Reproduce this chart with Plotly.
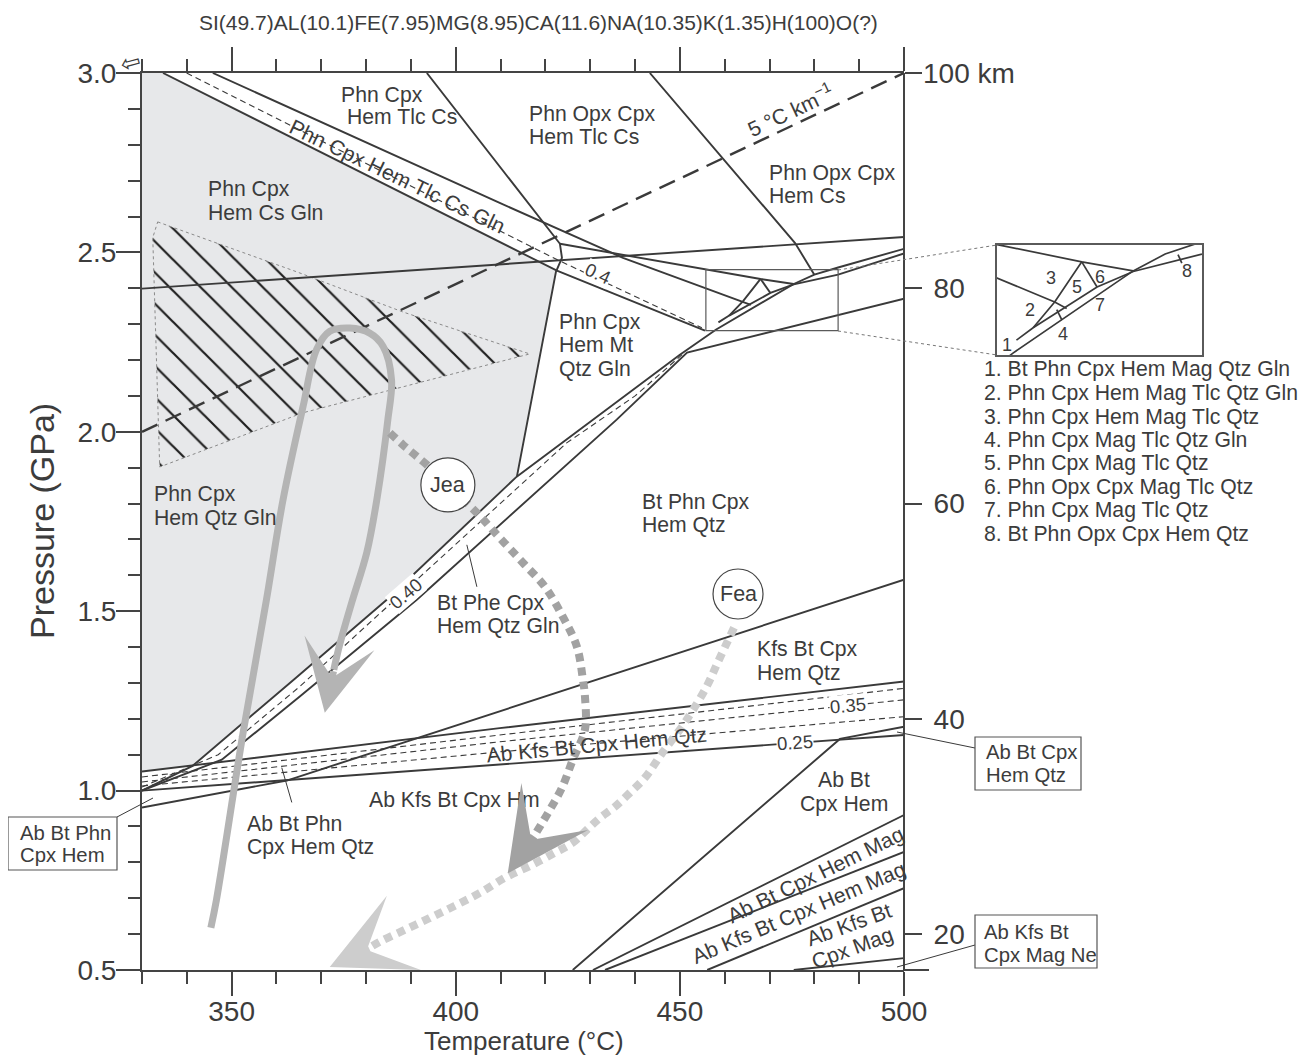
import plotly.graph_objects as go

# ------------------------------------------------------------------
# Data (temperature in °C, pressure in GPa)
# ------------------------------------------------------------------
shade_T = [330, 334.69, 422.5, 413.64, 384.6, 364.3, 341.3, 330]
shade_P = [3.0, 3.0, 2.448, 1.875, 1.532, 1.314, 1.069, 1.053]

hatch_T = [333.5, 364.5, 388.2, 416.5, 365.9, 333.95, 332.4, 333.5]
hatch_P = [2.585, 2.446, 2.334, 2.217, 2.053, 1.902, 2.541, 2.585]

# solid reaction lines
ub_T = [345.8, 409.8, 437.3, 455.8, 464.1, 465.83]
ub_P = [3.0, 2.638, 2.485, 2.401, 2.364, 2.354]
lb_T = [334.69, 422.57, 455.6]
lb_P = [3.0, 2.449, 2.282]
st_T = [393.55, 423.24, 423.69, 422.35, 413.64]
st_P = [3.0, 2.524, 2.485, 2.446, 1.875]
bl_T = [423.24, 455.8, 468.0, 475.4]
bl_P = [2.524, 2.452, 2.426, 2.412]
lh_T = [330, 500]
lh_P = [2.399, 2.543]
l6_T = [443.3, 475.7, 480.0]
l6_P = [3.0, 2.526, 2.438]
u_T = [330, 341.3, 364.3, 384.6, 413.6, 430.6, 450.0, 458.1, 475.4, 480.0, 485.3, 500]
u_P = [1.0, 1.069, 1.314, 1.532, 1.875, 2.033, 2.215, 2.285, 2.412, 2.438, 2.458, 2.510]
bc_T = [458.6, 461.0, 470.2, 475.4, 485.3, 500]
bc_P = [2.305, 2.324, 2.387, 2.411, 2.438, 2.497]
lw_T = [330, 347.8, 365.2, 391.3, 435.9, 451.6, 500]
lw_P = [1.0, 1.086, 1.262, 1.532, 2.034, 2.221, 2.371]
tril_T = [468.0, 464.1, 461.0]
tril_P = [2.426, 2.364, 2.324]
trir_T = [468.0, 470.2]
trir_P = [2.426, 2.387]
band_T = [330, 409.8, 500]
h1_P = [1.053, 1.174, 1.304]
h2_P = [1.0, 1.072, 1.155]
low_T = [330, 362.3, 500]
low_P = [0.953, 1.028, 1.588]
abch_T = [426.1, 485.7, 500]
abch_P = [0.5, 1.144, 1.178]
lr1_T = [430.6, 500]
lr1_P = [0.5, 0.932]
lr2_T = [433.3, 500]
lr2_P = [0.5, 0.829]
lr3_T = [456.1, 500]
lr3_P = [0.5, 0.728]
lr4_T = [475.4, 500]
lr4_P = [0.5, 0.533]

# dashed isopleths
db_T = [339.95, 422.57, 454.9]
db_P = [3.0, 2.480, 2.290]
d40_T = [330, 347, 365.2, 424.75, 440, 450.5]
d40_P = [1.01, 1.10, 1.29, 1.969, 2.10, 2.215]
hd1_P = [1.038, 1.155, 1.285]
hd2_P = [1.024, 1.136, 1.253]
hd3_P = [1.013, 1.108, 1.206]
geo_T = [330, 500]
geo_P = [2.0, 3.0]

# inset label ticks
tk4_T = [464.4, 465.15]
tk4_P = [2.352, 2.336]
tk8_T = [481.85, 482.4]
tk8_P = [2.437, 2.424]

# P-T paths
pt_T = [345.36, 346.6, 352.54, 357.77, 361.47, 365.94, 368.93, 371.9, 376.36, 380.8,
        383.8, 385.67, 384.85, 382.39, 380.16, 376.81, 374.13, 372.79]
pt_P = [0.618, 0.695, 1.160, 1.532, 1.811, 2.071, 2.229, 2.280, 2.289, 2.275,
        2.238, 2.145, 2.034, 1.811, 1.664, 1.525, 1.408, 1.337]
pt_tip = (370.78, 1.217)

jea_T = [385.29, 388.19, 390.87, 393.55, 398.24, 404.71, 409.85, 414.98, 419.89, 423.91,
         427.03, 428.37, 428.82, 428.82, 426.14, 423.69, 421.01, 417.66]
jea_P = [1.997, 1.964, 1.936, 1.908, 1.852, 1.774, 1.704, 1.635, 1.568, 1.484,
         1.401, 1.309, 1.262, 1.170, 1.087, 1.008, 0.947, 0.877]
jea_tip = (411.6, 0.7695)

fea_T = [462.08, 458.51, 456.05, 452.93, 450.47, 446.23, 442.21, 438.86, 435.51, 432.17,
         429.26, 426.14, 422.12, 416.54, 410.96, 405.38, 399.80, 394.22, 388.64, 383.06, 379.7]
fea_P = [1.454, 1.359, 1.292, 1.225, 1.178, 1.108, 1.036, 0.994, 0.955, 0.924,
         0.891, 0.855, 0.827, 0.790, 0.757, 0.715, 0.679, 0.645, 0.612, 0.579, 0.5535]
fea_tip = (371.88, 0.5087)

jea_c = (398.24, 1.852)
fea_c = (462.97, 1.548)

box_T = [455.8, 485.3]
box_P = [2.282, 2.452]

depth_ticks = [20, 40, 60, 80, 100]
depth_text = ['20', '40', '60', '80', '']

legend_items = ["1. Bt Phn Cpx Hem Mag Qtz Gln", "2. Phn Cpx Hem Mag Tlc Qtz Gln",
                "3. Phn Cpx Hem Mag Tlc Qtz", "4. Phn Cpx Mag Tlc Qtz Gln",
                "5. Phn Cpx Mag Tlc Qtz", "6. Phn Opx Cpx Mag Tlc Qtz",
                "7. Phn Cpx Mag Tlc Qtz", "8. Bt Phn Opx Cpx Hem Qtz"]

# field labels: (text, T, P) left-anchored lines
field_lines = [
    ("Phn Cpx", 373.9, 2.9395), ("Hem Tlc Cs", 375.25, 2.878),
    ("Phn Opx Cpx", 415.87, 2.887), ("Hem Tlc Cs", 415.87, 2.822),
    ("Phn Opx Cpx", 469.44, 2.722), ("Hem Cs", 469.44, 2.658),
    ("Phn Cpx", 344.22, 2.677), ("Hem Cs Gln", 344.22, 2.610),
    ("Phn Cpx", 422.54, 2.307), ("Hem Mt", 422.54, 2.243), ("Qtz Gln", 422.54, 2.176),
    ("Phn Cpx", 332.17, 1.827), ("Hem Qtz Gln", 332.17, 1.760),
    ("Bt Phn Cpx", 441.09, 1.805), ("Hem Qtz", 441.09, 1.741),
    ("Bt Phe Cpx", 395.33, 1.523), ("Hem Qtz Gln", 395.33, 1.459),
    ("Kfs Bt Cpx", 466.77, 1.395), ("Hem Qtz", 466.77, 1.328),
    ("Ab Kfs Bt Cpx Hm", 380.15, 0.975),
    ("Ab Bt Phn", 352.95, 0.907), ("Cpx Hem Qtz", 352.95, 0.843),
]
centered_lines = [("Ab Bt", 486.6, 1.030), ("Cpx Hem", 486.6, 0.963)]
rotated_labels = [
    ("Phn Cpx Hem Tlc Cs Gln", 387.0, 2.710, 25.6),
    ("Ab Kfs Bt Cpx Hem Qtz", 431.5, 1.128, -5.5),
    ("Ab Bt Cpx Hem Mag", 480.34, 0.765, -26),
    ("Ab Kfs Bt Cpx Hem Mag", 476.54, 0.659, -23),
    ("Ab Kfs Bt", 487.7, 0.626, -20),
    ("Cpx Mag", 488.6, 0.562, -20),
    ("5 °C km<sup>−1</sup>", 474.55, 2.897, -25.2),
]
number_labels = [("0.4", 431.7, 2.4405, 25), ("0.40", 388.9, 1.549, -41),
                 ("0.35", 487.57, 1.236, -5), ("0.25", 475.7, 1.133, -4)]
inset_nums = [("1", 457.3, 2.297), ("2", 460.55, 2.352), ("3", 463.6, 2.401),
              ("4", 465.3, 2.314), ("5", 467.3, 2.387), ("6", 470.6, 2.403),
              ("7", 470.6, 2.359), ("8", 483.1, 2.412)]

# ------------------------------------------------------------------
# Layout geometry (page body has an 8 px margin)
# ------------------------------------------------------------------
OFF = 8
W, H = 1293, 1054
ML, MT = 134, 65
PW, PH = 1060, 897
MR, MB = W - ML - PW, H - MT - PH
XMAIN = (904 - OFF - ML) / PW
XI0 = (997 - OFF - ML) / PW
YI0, YI1 = (H - MB - (355 - OFF)) / PH, (H - MB - (245 - OFF)) / PH


def paper(x, y):
    """convert a position measured on the reference screenshot to paper coords"""
    return (x - OFF - ML) / PW, (H - MB - (y - OFF)) / PH


FONT = "Liberation Sans, Arial, Helvetica, sans-serif"
LC = "#3a3a3a"
TC = "#3c3c3c"
AX = "#444444"

fig = go.Figure()


def line(T, P, width=1.9, color=LC, dash=None, xa='x', ya='y', shape='linear'):
    fig.add_trace(go.Scatter(x=T, y=P, mode='lines', xaxis=xa, yaxis=ya,
                             line=dict(color=color, width=width, dash=dash, shape=shape),
                             hoverinfo='skip'))


# shaded field
fig.add_trace(go.Scatter(x=shade_T, y=shade_P, mode='lines', fill='toself',
                         fillcolor='#e7e8ea', line=dict(width=0), hoverinfo='skip'))
# hatched field
fig.add_trace(go.Scatter(x=hatch_T, y=hatch_P, mode='lines', fill='toself',
                         fillcolor='rgba(0,0,0,0)',
                         fillpattern=dict(shape='\\', size=22, solidity=0.1,
                                          fgcolor='#1e1e1e', fgopacity=1,
                                          bgcolor='rgba(0,0,0,0)'),
                         line=dict(color='#8a8a8a', width=1, dash='dot'), hoverinfo='skip'))

# dashed lines
for P in (hd1_P, hd2_P, hd3_P):
    line(band_T, P, width=1.1, dash='6px,4px')
line(db_T, db_P, width=1.1, dash='6px,4px')
line(d40_T, d40_P, width=1.1, dash='6px,4px')
line(geo_T, geo_P, width=2.4, dash='17px,9px')

# solid lines
for T, P in [(ub_T, ub_P), (lb_T, lb_P), (st_T, st_P), (bl_T, bl_P), (lh_T, lh_P),
             (l6_T, l6_P), (u_T, u_P), (bc_T, bc_P), (lw_T, lw_P), (tril_T, tril_P),
             (trir_T, trir_P), (band_T, h1_P), (band_T, h2_P), (low_T, low_P),
             (abch_T, abch_P), (lr1_T, lr1_P), (lr2_T, lr2_P), (lr3_T, lr3_P),
             (lr4_T, lr4_P)]:
    line(T, P)

# inset (magnified box)
for T, P in [(bl_T, bl_P), (ub_T, ub_P), (tril_T, tril_P), (trir_T, trir_P),
             (u_T, u_P), (bc_T, bc_P), (tk4_T, tk4_P), (tk8_T, tk8_P)]:
    line(T, P, width=1.7, xa='x3', ya='y3')

# P-T paths
line(pt_T, pt_P, width=7, color='#b4b4b4', shape='spline')
line(jea_T, jea_P, width=8, color='#a2a2a2', dash='8px,6px', shape='spline')
line(fea_T, fea_P, width=8, color='#cdcdcd', dash='8px,6px', shape='spline')

# dummy trace for depth axis
fig.add_trace(go.Scatter(x=[330], y=[50], xaxis='x', yaxis='y2', mode='markers',
                         marker=dict(opacity=0), hoverinfo='skip'))

# ------------------------------------------------------------------
# Shapes
# ------------------------------------------------------------------
sx = XMAIN * PW / 170.0
sy = PH / 2.5
shapes = []
for (cT, cP), r in ((jea_c, 27), (fea_c, 25)):
    shapes.append(dict(type='circle', xref='x', yref='y', x0=cT - r / sx, x1=cT + r / sx,
                       y0=cP - r / sy, y1=cP + r / sy, fillcolor='white',
                       line=dict(color='#444', width=1.2), layer='above'))
shapes.append(dict(type='rect', xref='x', yref='y', x0=box_T[0], x1=box_T[1],
                   y0=box_P[0], y1=box_P[1], line=dict(color='#5a5a5a', width=1.2)))
# leaders inside plot (data coords)
shapes.append(dict(type='line', xref='x', yref='y', x0=402.47, y0=1.685, x1=404.71, y1=1.568,
                   line=dict(color=LC, width=1)))
shapes.append(dict(type='line', xref='x', yref='y', x0=361.18, y0=1.064, x1=363.42, y1=0.967,
                   line=dict(color=LC, width=1)))


def pline(x0, y0, x1, y1, **kw):
    a, b = paper(x0, y0)
    c, d = paper(x1, y1)
    shapes.append(dict(type='line', xref='paper', yref='paper', x0=a, y0=b, x1=c, y1=d,
                       line=kw.get('line', dict(color=LC, width=1))))


def prect(x0, y0, x1, y1):
    a, b = paper(x0, y1)
    c, d = paper(x1, y0)
    shapes.append(dict(type='rect', xref='paper', yref='paper', x0=a, y0=b, x1=c, y1=d,
                       fillcolor='white', line=dict(color='#555', width=1.2)))


pline(838, 270, 997, 245, line=dict(color='#777', width=1, dash='dot'))
pline(838, 331, 997, 355, line=dict(color='#777', width=1, dash='dot'))
pline(117, 817, 153, 798)
pline(897, 732, 975, 748)
pline(897, 967, 975, 945)
pline(904, 970, 929, 970, line=dict(color=AX, width=2))
prect(8, 817, 117, 870)
prect(975, 737, 1081, 790)
prect(975, 915, 1097, 968)

# ------------------------------------------------------------------
# Annotations
# ------------------------------------------------------------------
anns = []
LS = 21.2
BS = 20.3


def dlab(text, T, P, xanchor='left', angle=0, size=LS, **kw):
    anns.append(dict(text=text, x=T, y=P, xref='x', yref='y', showarrow=False,
                     xanchor=xanchor, yanchor='middle', textangle=angle,
                     font=dict(size=size, color=TC, family=FONT), **kw))


def plab(text, x, y, xanchor='left', size=LS, angle=0, **kw):
    a, b = paper(x, y)
    anns.append(dict(text=text, x=a, y=b, xref='paper', yref='paper', showarrow=False,
                     xanchor=xanchor, yanchor='middle', textangle=angle,
                     font=dict(size=size, color=TC, family=FONT), **kw))


for t, T, P in field_lines:
    dlab(t, T, P)
for t, T, P in centered_lines:
    dlab(t, T, P, xanchor='center')
for t, T, P, a in rotated_labels:
    dlab(t, T, P, xanchor='center', angle=a)
for t, T, P, a in number_labels:
    dlab(t, T, P, xanchor='center', angle=a, size=18.5, bgcolor='white', borderpad=0)
dlab("Jea", jea_c[0], jea_c[1], xanchor='center', size=21.5)
dlab("Fea", fea_c[0], fea_c[1], xanchor='center', size=21.5)

for t, T, P in inset_nums:
    anns.append(dict(text=t, x=T, y=P, xref='x3', yref='y3', showarrow=False,
                     xanchor='center', yanchor='middle',
                     font=dict(size=18, color=TC, family=FONT)))

legend_y = [369, 393, 417, 440, 463, 487, 510, 534]
for t, y in zip(legend_items, legend_y):
    plab(t, 982, y)

plab("Ab Bt Phn", 18, 833, size=BS)
plab("Cpx Hem", 18, 855, size=BS)
plab("Ab Bt Cpx", 984, 752, size=BS)
plab("Hem Qtz", 984, 775, size=BS)
plab("Ab Kfs Bt", 982, 932, size=BS)
plab("Cpx Mag Ne", 982, 955, size=BS)

plab("100 km", 921, 73, size=28)
plab("SI(49.7)AL(10.1)FE(7.95)MG(8.95)CA(11.6)NA(10.35)K(1.35)H(100)O(?)", 538, 22,
     xanchor='center', size=21)
plab("Pressure (GPa)", 42, 521, xanchor='center', size=34, angle=-90)
plab("Temperature (°C)", 524, 1041, xanchor='center', size=26)
plab("⇦", 131, 63, xanchor='center', size=24, angle=-15)

# arrow heads
for tip, tail, col, wd in ((pt_tip, (pt_T[-1], pt_P[-1]), '#b4b4b4', 7),
                           (jea_tip, (jea_T[-1], jea_P[-1]), '#a2a2a2', 8),
                           (fea_tip, (fea_T[-1], fea_P[-1]), '#cdcdcd', 8)):
    anns.append(dict(x=tip[0], y=tip[1], ax=tail[0], ay=tail[1], xref='x', yref='y',
                     axref='x', ayref='y', text='', showarrow=True, arrowhead=3,
                     arrowsize=1.7, arrowwidth=wd, arrowcolor=col, standoff=0))

tickfont = dict(size=28, color=TC, family=FONT)
fig.update_layout(
    width=W, height=H, margin=dict(l=ML, r=MR, t=MT, b=MB),
    paper_bgcolor='white', plot_bgcolor='rgba(0,0,0,0)', showlegend=False,
    font=dict(family=FONT, color=TC),
    xaxis=dict(domain=[0, XMAIN], range=[330, 500], anchor='y', tick0=350, dtick=50,
               ticks='outside', ticklen=24, tickwidth=1.6, tickcolor=AX,
               showline=True, linewidth=2, linecolor=AX, mirror='ticks',
               showgrid=False, zeroline=False, tickfont=tickfont, ticklabelstandoff=-9,
               minor=dict(tick0=330, dtick=10, ticks='outside', ticklen=12,
                          tickwidth=1.6, tickcolor=AX)),
    yaxis=dict(domain=[0, 1], range=[0.5, 3.0], anchor='x', tick0=0.5, dtick=0.5,
               tickformat='.1f', ticks='outside', ticklen=24, tickwidth=1.6,
               tickcolor=AX, showline=True, linewidth=2, linecolor=AX,
               showgrid=False, zeroline=False, tickfont=tickfont, ticklabelstandoff=-6,
               minor=dict(tick0=0.5, dtick=0.1, ticks='outside', ticklen=12,
                          tickwidth=1.6, tickcolor=AX)),
    yaxis2=dict(overlaying='y', side='right', anchor='free', position=XMAIN,
                range=[0.5 / 0.03, 3.0 / 0.03], tickmode='array', tickvals=depth_ticks,
                ticktext=depth_text, ticks='outside', ticklen=17, tickwidth=1.6,
                tickcolor=AX, showline=True, linewidth=2, linecolor=AX,
                showgrid=False, zeroline=False, tickfont=tickfont, ticklabelstandoff=6),
    xaxis3=dict(domain=[XI0, 1], range=box_T, anchor='y3', showline=True, mirror=True,
                linecolor='#5a5a5a', linewidth=1.5, ticks='', showticklabels=False,
                showgrid=False, zeroline=False),
    yaxis3=dict(domain=[YI0, YI1], range=box_P, anchor='x3', showline=True, mirror=True,
                linecolor='#5a5a5a', linewidth=1.5, ticks='', showticklabels=False,
                showgrid=False, zeroline=False),
    shapes=shapes, annotations=anns,
)

fig.write_html("out.html")
